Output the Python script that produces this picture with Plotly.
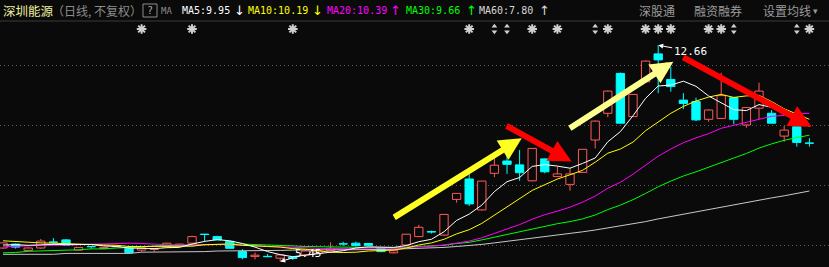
import plotly.graph_objects as go

# ---------------- data ----------------
days = list(range(65))

opens = [5.90, 6.03, 5.82, 5.90, 6.10, 6.17, 5.83, 5.95, 5.88, 5.94,
         5.89, 5.83, 5.85, 5.94, 5.98, 6.06, 6.36, 6.28, 6.12, 5.78,
         5.62, 5.62, 5.56, 5.60, 5.67, 5.72, 5.81, 6.04, 6.06, 6.05,
         5.89, 5.74, 6.00, 6.28, 6.45, 6.33, 7.52, 8.20, 7.17, 8.39,
         8.80, 8.67, 8.14, 8.87, 8.28, 8.02, 8.42, 9.50, 10.39, 11.72,
         10.28, 11.44, 12.37, 11.52, 10.83, 10.78, 10.19, 10.22, 10.91, 10.00,
         10.56, 10.39, 9.63, 9.94, 9.40]
highs = [6.08, 6.05, 5.92, 6.20, 6.23, 6.20, 5.93, 5.95, 5.93, 5.97,
         5.90, 5.92, 5.89, 6.08, 6.04, 6.31, 6.36, 6.31, 6.13, 5.86,
         5.75, 5.70, 5.68, 5.62, 5.82, 5.82, 6.09, 6.11, 6.11, 6.06,
         5.90, 5.82, 6.37, 6.67, 6.48, 7.03, 7.73, 8.37, 8.14, 8.91,
         9.44, 9.17, 9.23, 8.88, 8.61, 8.56, 9.20, 10.15, 11.15, 11.75,
         11.03, 12.15, 12.66, 11.94, 11.06, 10.91, 10.52, 11.74, 10.93, 10.60,
         11.41, 10.50, 9.97, 9.95, 9.56]
lows = [5.87, 5.88, 5.80, 5.87, 6.00, 6.00, 5.82, 5.87, 5.86, 5.92,
        5.73, 5.78, 5.78, 5.92, 5.96, 6.05, 6.11, 6.17, 5.88, 5.52,
        5.52, 5.59, 5.45, 5.50, 5.65, 5.70, 5.80, 5.97, 5.95, 5.97,
        5.76, 5.72, 5.98, 6.27, 6.38, 6.30, 7.41, 7.30, 7.15, 8.26,
        8.37, 8.14, 8.12, 8.39, 8.27, 7.81, 8.40, 9.22, 10.26, 10.05,
        10.27, 11.40, 11.06, 11.11, 10.53, 10.13, 10.11, 10.20, 10.02, 9.91,
        10.19, 10.05, 9.44, 9.28, 9.28]
closes = [6.07, 5.93, 5.90, 6.13, 6.09, 6.00, 5.92, 5.94, 5.92, 5.96,
          5.74, 5.90, 5.88, 6.06, 6.03, 6.28, 6.35, 6.17, 5.89, 5.58,
          5.66, 5.61, 5.67, 5.55, 5.80, 5.80, 5.89, 6.03, 5.98, 5.99,
          5.78, 5.81, 6.36, 6.59, 6.43, 7.02, 7.72, 7.37, 8.13, 8.66,
          8.69, 8.41, 9.22, 8.44, 8.37, 8.37, 9.19, 10.13, 11.13, 10.06,
          11.02, 12.13, 12.17, 11.28, 10.72, 10.17, 10.50, 10.98, 10.19, 10.58,
          11.13, 10.06, 9.83, 9.42, 9.39]

ma5 = [6.00, 6.01, 5.99, 6.01, 6.02, 6.01, 6.01, 6.02, 5.97, 5.95,
       5.90, 5.89, 5.88, 5.91, 5.92, 6.03, 6.12, 6.18, 6.14, 6.05,
       5.93, 5.78, 5.68, 5.61, 5.66, 5.69, 5.74, 5.81, 5.90, 5.94,
       5.93, 5.92, 5.98, 6.11, 6.19, 6.44, 6.82, 7.03, 7.33, 7.78,
       8.11, 8.25, 8.62, 8.68, 8.63, 8.56, 8.72, 8.90, 9.44, 9.78,
       10.31, 10.89, 11.30, 11.33, 11.46, 11.29, 10.97, 10.73, 10.51, 10.48,
       10.68, 10.59, 10.36, 10.20, 9.95]
ma10 = [6.14, 6.11, 6.08, 6.07, 6.06, 6.04, 6.02, 6.01, 6.00, 5.99,
        5.95, 5.95, 5.95, 5.94, 5.94, 5.96, 6.01, 6.03, 6.03, 5.99,
        5.98, 5.95, 5.93, 5.88, 5.86, 5.81, 5.76, 5.75, 5.76, 5.80,
        5.81, 5.83, 5.90, 6.00, 6.07, 6.19, 6.37, 6.51, 6.72, 6.99,
        7.28, 7.54, 7.82, 8.01, 8.20, 8.34, 8.49, 8.76, 9.06, 9.20,
        9.43, 9.81, 10.10, 10.39, 10.62, 10.80, 10.93, 11.02, 10.92, 10.97,
        10.99, 10.78, 10.54, 10.36, 10.19]
ma20 = [5.94, 5.96, 5.98, 5.99, 5.99, 6.00, 6.01, 6.03, 6.05, 6.06,
        6.06, 6.05, 6.02, 6.01, 6.00, 6.01, 6.02, 6.03, 6.02, 5.99,
        5.97, 5.95, 5.94, 5.91, 5.90, 5.89, 5.88, 5.89, 5.89, 5.89,
        5.90, 5.89, 5.91, 5.94, 5.96, 6.00, 6.07, 6.13, 6.24, 6.39,
        6.54, 6.68, 6.86, 7.01, 7.13, 7.26, 7.43, 7.63, 7.89, 8.09,
        8.36, 8.67, 8.96, 9.20, 9.41, 9.57, 9.71, 9.89, 9.99, 10.09,
        10.21, 10.29, 10.32, 10.37, 10.39]
ma30 = [5.74, 5.75, 5.79, 5.80, 5.83, 5.83, 5.84, 5.87, 5.87, 5.90,
        5.91, 5.93, 5.97, 5.98, 6.00, 6.01, 6.03, 6.03, 6.03, 6.03,
        6.02, 6.00, 5.98, 5.97, 5.95, 5.94, 5.93, 5.93, 5.92, 5.92,
        5.91, 5.91, 5.93, 5.94, 5.95, 5.99, 6.05, 6.09, 6.17, 6.26,
        6.36, 6.44, 6.55, 6.63, 6.71, 6.78, 6.87, 7.00, 7.18, 7.33,
        7.51, 7.72, 7.94, 8.13, 8.30, 8.44, 8.60, 8.76, 8.90, 9.05,
        9.23, 9.37, 9.49, 9.58, 9.66]
ma60 = [5.69, 5.69, 5.69, 5.69, 5.69, 5.72, 5.72, 5.72, 5.72, 5.72,
        5.72, 5.76, 5.76, 5.76, 5.76, 5.78, 5.78, 5.80, 5.80, 5.80,
        5.82, 5.82, 5.82, 5.83, 5.83, 5.83, 5.83, 5.84, 5.84, 5.85,
        5.85, 5.86, 5.87, 5.88, 5.90, 5.92, 5.95, 5.98, 6.02, 6.07,
        6.12, 6.17, 6.23, 6.28, 6.33, 6.38, 6.44, 6.50, 6.57, 6.63,
        6.70, 6.78, 6.87, 6.95, 7.03, 7.10, 7.18, 7.26, 7.33, 7.41,
        7.50, 7.57, 7.64, 7.72, 7.80]

grid_prices = [6, 8, 10, 12]
star_days = [11, 15, 23, 37, 42, 44, 48, 51, 52, 53, 56, 57, 64]
flag_days = [39, 40, 47, 58, 63]
high_day, high_price = 52, 12.66
low_day, low_price = 22, 5.45

stock_name = "深圳能源"
period_text = "（日线, 不复权）"
right_menu = ["深股通", "融资融券", "设置均线"]

# ---------------- geometry / styles ----------------
W, H = 829, 267
PX_PER_DAY = 12.6
FIRST_PX = 3.0
PX_PER_YUAN = 30.0
REF_PRICE, REF_PX = 10.0, 125.0
BODY_WIDTH = 0.66
MIN_BODY = 0.012

x_lo = -FIRST_PX / PX_PER_DAY
x_hi = x_lo + W / PX_PER_DAY
y_hi = REF_PRICE + REF_PX / PX_PER_YUAN
y_lo = REF_PRICE - (H - REF_PX) / PX_PER_YUAN
signal_level = REF_PRICE - (29 - REF_PX) / PX_PER_YUAN

BG = "#0a0a0a"
RED = "#ff5a5a"
CYAN = "#00ffff"
STAR = "#d0d0d0"
MONO = "DejaVu Sans Mono"
CJK = "Noto Sans CJK SC"

fig = go.Figure()

# ---- candles: bodies as bars, wicks as line segments ----
is_up = [c >= o for o, c in zip(opens, closes)]
body_base = [min(o, c) for o, c in zip(opens, closes)]
body_len = [max(abs(c - o), MIN_BODY) for o, c in zip(opens, closes)]
fig.add_trace(go.Bar(
    x=days, y=body_len, base=body_base, width=BODY_WIDTH,
    marker=dict(color=[BG if u else CYAN for u in is_up],
                line=dict(color=[RED if u else CYAN for u in is_up], width=1)),
    hoverinfo="skip", showlegend=False))

for want_up, col in [(True, RED), (False, CYAN)]:
    wx, wy = [], []
    for d, o, h, l, c, u in zip(days, opens, highs, lows, closes, is_up):
        if u != want_up:
            continue
        top, bot = max(o, c), min(o, c)
        if h > top:
            wx += [d, d, None]
            wy += [top, h, None]
        if l < bot:
            wx += [d, d, None]
            wy += [l, bot, None]
    fig.add_trace(go.Scatter(x=wx, y=wy, mode="lines", line=dict(color=col, width=1),
                             hoverinfo="skip", showlegend=False))

ma_series = [(ma60, "#c8c8c8"), (ma30, "#00ff00"), (ma20, "#ff00ff"),
             (ma10, "#ffff00"), (ma5, "#ffffff")]
for vals, col in ma_series:
    fig.add_trace(go.Scatter(x=days, y=vals, mode="lines",
                             line=dict(color=col, width=1),
                             hoverinfo="skip", showlegend=False))

# signal markers row
fig.add_trace(go.Scatter(x=star_days, y=[signal_level] * len(star_days), mode="markers",
                         marker=dict(symbol="asterisk-open", size=8, color=STAR,
                                     line=dict(color=STAR, width=2)),
                         hoverinfo="skip", showlegend=False))
fig.add_trace(go.Scatter(x=star_days, y=[signal_level] * len(star_days), mode="markers",
                         marker=dict(symbol="circle", size=4, color=STAR),
                         hoverinfo="skip", showlegend=False))
fig.add_trace(go.Scatter(x=flag_days, y=[signal_level + 0.09] * len(flag_days), mode="markers",
                         marker=dict(symbol="triangle-up", size=5, color=STAR),
                         hoverinfo="skip", showlegend=False))
fig.add_trace(go.Scatter(x=flag_days, y=[signal_level - 0.09] * len(flag_days), mode="markers",
                         marker=dict(symbol="triangle-down", size=5, color=STAR),
                         hoverinfo="skip", showlegend=False))

annotations = []

# high / low labels
annotations.append(dict(x=high_day, y=high_price, xref="x", yref="y",
                        text=f"{high_price:.2f}", showarrow=True, ax=32, ay=6,
                        arrowhead=2, arrowsize=1, arrowwidth=1, arrowcolor="#ffffff",
                        font=dict(family=MONO, size=11, color="#ffffff"), standoff=0))
annotations.append(dict(x=low_day, y=low_price, xref="x", yref="y",
                        text=f"{low_price:.2f}", showarrow=True, ax=28, ay=-8,
                        arrowhead=2, arrowsize=1, arrowwidth=1, arrowcolor="#ffffff",
                        font=dict(family=MONO, size=11, color="#ffffff"), standoff=0))

# hand-drawn trend arrows (tail day, tail price, tip day, tip price, colour)
trend_arrows = [
    (30.93, 6.89, 41.17, 9.56, "#ffff22"),
    (39.84, 10.00, 45.13, 8.78, "#ff0000"),
    (44.87, 9.86, 53.20, 12.11, "#ffff90"),
    (53.87, 12.28, 64.18, 9.94, "#ff0000"),
]
for tx, ty, hx, hy, col in trend_arrows:
    annotations.append(dict(x=hx, y=hy, xref="x", yref="y", ax=tx, ay=ty,
                            axref="x", ayref="y", text="", showarrow=True,
                            arrowhead=2, arrowsize=0.75, arrowwidth=6,
                            arrowcolor=col, standoff=0))

# header
def px_to_paper_x(px):
    return px / W

HEAD_Y = 1 - 11 / H

def head(px, text, color, family, size):
    annotations.append(dict(x=px_to_paper_x(px), y=HEAD_Y, xref="paper", yref="paper",
                            xanchor="left", yanchor="middle", showarrow=False,
                            text=text, font=dict(family=family, size=size, color=color)))

def trend(vals):
    return "↑" if vals[-1] >= vals[-2] else "↓"

head(1, stock_name, "#f0f0a0", CJK, 12.5)
head(50, period_text, "#8c8c8c", CJK, 12)
annotations.append(dict(x=px_to_paper_x(150), y=1 - 10.5 / H, xref="paper", yref="paper",
                        xanchor="center", yanchor="middle", showarrow=False, text="?",
                        font=dict(family=MONO, size=10, color="#aaaaaa")))
head(159, "MA", "#8c8c8c", MONO, 9)
head(180, f"MA5:{ma5[-1]:.2f}", "#ffffff", MONO, 10)
head(232, trend(ma5), "#ffffff", "DejaVu Sans", 13)
head(246, f"MA10:{ma10[-1]:.2f}", "#ffff00", MONO, 10)
head(310, trend(ma10), "#ffff00", "DejaVu Sans", 13)
head(325, f"MA20:{ma20[-1]:.2f}", "#ff00ff", MONO, 10)
head(388, trend(ma20), "#ff00ff", "DejaVu Sans", 13)
head(404, f"MA30:{ma30[-1]:.2f}", "#00ff00", MONO, 10)
head(464, trend(ma30), "#00ff00", "DejaVu Sans", 13)
head(477, f"MA60:{ma60[-1]:.2f}", "#d8d8d8", MONO, 10)
head(537, trend(ma60), "#d8d8d8", "DejaVu Sans", 13)
for px, txt in zip([637, 692, 761], right_menu):
    head(px, txt, "#9a9a9a", CJK, 12)
head(811, "▾", "#9a9a9a", "DejaVu Sans", 9)

shapes = [
    dict(type="line", xref="paper", yref="paper", x0=0, x1=1,
         y0=1 - 21 / H, y1=1 - 21 / H, line=dict(color="#3a3a3a", width=1)),
    dict(type="rect", xref="paper", yref="paper",
         x0=px_to_paper_x(143), x1=px_to_paper_x(157),
         y0=1 - 17 / H, y1=1 - 4 / H, line=dict(color="#8c8c8c", width=1)),
]

fig.update_layout(
    width=W, height=H, margin=dict(l=0, r=0, t=0, b=0),
    paper_bgcolor=BG, plot_bgcolor=BG, showlegend=False, barmode="overlay",
    xaxis=dict(range=[x_lo, x_hi], showgrid=False, zeroline=False,
               showticklabels=False, ticks="", fixedrange=True),
    yaxis=dict(range=[y_lo, y_hi], tickvals=grid_prices, showgrid=True,
               gridcolor="#5a5a5a", griddash="1px,3px", gridwidth=1,
               zeroline=False, showticklabels=False, ticks="", fixedrange=True),
    annotations=annotations, shapes=shapes, hovermode=False,
)

fig.write_html("out.html", config={"displayModeBar": False})
